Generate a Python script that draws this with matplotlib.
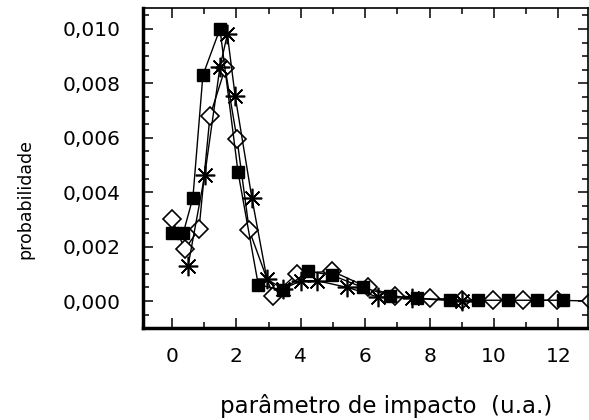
import matplotlib
matplotlib.use("Agg")
import matplotlib.pyplot as plt
from matplotlib.ticker import MultipleLocator, FuncFormatter

# Data (probability values in units of 1e-3)
sq_x = [0.0, 0.35, 0.65, 0.96, 1.49, 2.05, 2.68, 3.45, 4.22, 4.97, 5.93, 6.77, 7.6, 8.63, 9.5, 10.43, 11.33, 12.14]
sq_y = [2.5, 2.5, 3.8, 8.3, 10.0, 4.75, 0.6, 0.4, 1.1, 0.95, 0.5, 0.2, 0.1, 0.05, 0.03, 0.03, 0.03, 0.03]

di_x = [0.0, 0.4, 0.84, 1.18, 1.65, 2.02, 2.4, 3.14, 3.88, 4.97, 6.08, 6.93, 8.0, 9.0, 9.97, 10.9, 11.96, 13.0]
di_y = [3.0, 1.9, 2.65, 6.8, 8.55, 5.95, 2.6, 0.2, 1.0, 1.1, 0.5, 0.2, 0.1, 0.05, 0.03, 0.03, 0.03, 0.0]

as_x = [0.5, 1.02, 1.49, 1.72, 1.96, 2.48, 2.95, 3.45, 4.02, 4.5, 5.45, 6.4, 7.45, 9.0]
as_y = [1.3, 4.65, 8.6, 9.8, 7.55, 3.8, 0.8, 0.45, 0.75, 0.75, 0.5, 0.15, 0.1, 0.0]

x_ticks = [0, 2, 4, 6, 8, 10, 12]
y_ticks = [0.000, 0.002, 0.004, 0.006, 0.008, 0.010]

scale = 1e-3

fig = plt.figure(figsize=(5.89, 4.20), dpi=100)
ax = fig.add_axes([143/589, 1-328/420, (588-143)/589, (328-8)/420])

ax.plot(sq_x, [v*scale for v in sq_y], color='black', lw=1.0, marker='s',
        markersize=8.5, markerfacecolor='black', markeredgecolor='black', zorder=3)
ax.plot(di_x, [v*scale for v in di_y], color='black', lw=1.0, marker='D',
        markersize=9.5, markerfacecolor='white', markeredgecolor='black', markeredgewidth=1.2, zorder=2)
ax.plot(as_x, [v*scale for v in as_y], color='black', lw=1.0, marker=(8, 2, 0),
        markersize=14, markeredgecolor='black', markeredgewidth=1.2, zorder=4)

ax.set_xlim(-0.9, 12.92)
ax.set_ylim(-0.00099, 0.01077)

ax.set_xticks(x_ticks)
ax.xaxis.set_minor_locator(MultipleLocator(1))
ax.set_yticks(y_ticks)
ax.yaxis.set_minor_locator(MultipleLocator(0.0005))
ax.yaxis.set_major_formatter(FuncFormatter(lambda v, p: f"{v:.3f}".replace('.', ',')))

ax.tick_params(axis='both', which='both', direction='in', top=True, right=True, color='black')
ax.tick_params(axis='both', which='major', length=7, width=1.1, labelsize=14.5)
ax.tick_params(axis='x', which='major', pad=14)
ax.tick_params(axis='y', which='major', pad=16)
ax.tick_params(axis='both', which='minor', length=4, width=1.1)

for s in ['left', 'bottom']:
    ax.spines[s].set_linewidth(2.5)
for s in ['top', 'right']:
    ax.spines[s].set_linewidth(1.2)

ax.set_xlabel('parâmetro de impacto  (u.a.)', fontsize=16.5)
ax.xaxis.set_label_coords(0.546, -0.205)
ax.set_ylabel('probabilidade', fontsize=12.5, va='center')
ax.yaxis.set_label_coords(-0.265, 0.403)

fig.savefig('out.png', dpi=100)
